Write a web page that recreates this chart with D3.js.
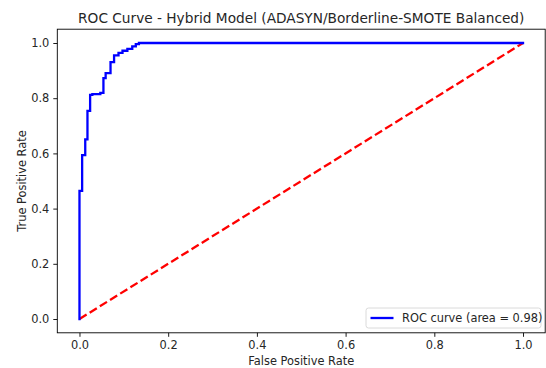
<!DOCTYPE html>
<html>
<head>
<meta charset="utf-8">
<style>
  body { margin: 0; background: #fff; }
  text { font-family: "DejaVu Sans", sans-serif; fill: #262626; }
</style>
</head>
<body>
<svg width="546" height="368"></svg>
<script src="https://d3js.org/d3.v7.min.js"></script>
<script>

// ROC points
var fpr = [0, 0, 0.006, 0.006, 0.013, 0.013, 0.018, 0.018, 0.024, 0.024, 0.029, 0.029,
           0.047, 0.047, 0.054, 0.054, 0.059, 0.059, 0.070, 0.070, 0.078, 0.078, 0.088, 0.088,
           0.097, 0.097, 0.108, 0.108, 0.119, 0.119, 0.127, 0.127, 0.134, 0.134, 1];
var tpr = [0, 0.464, 0.464, 0.594, 0.594, 0.651, 0.651, 0.754, 0.754, 0.812, 0.812, 0.815,
           0.815, 0.819, 0.819, 0.873, 0.873, 0.891, 0.891, 0.931, 0.931, 0.955, 0.955, 0.964,
           0.964, 0.972, 0.972, 0.979, 0.979, 0.988, 0.988, 0.996, 0.996, 1.0, 1.0];
var diagX = [0, 1];
var diagY = [0, 1];
var ticks = [0, 0.2, 0.4, 0.6, 0.8, 1.0];
var rocAuc = 0.98;

var svg = d3.select("svg");

var x = d3.scaleLinear().domain([-0.05, 1.05]).range([57.3, 545.2]);
var y = d3.scaleLinear().domain([-0.05, 1.05]).range([332.8, 29.2]);

var line = d3.line()
    .x(function(d) { return x(d[0]); })
    .y(function(d) { return y(d[1]); });

// diagonal reference
svg.append("path")
    .datum(d3.zip(diagX, diagY))
    .attr("d", line)
    .attr("fill", "none")
    .attr("stroke", "#ff0000")
    .attr("stroke-width", 2.3)
    .attr("stroke-dasharray", "8.4,3.6");

// roc curve
svg.append("path")
    .datum(d3.zip(fpr, tpr))
    .attr("d", line)
    .attr("fill", "none")
    .attr("stroke", "#0000ff")
    .attr("stroke-width", 2.3)
    .attr("stroke-linejoin", "miter")
    .attr("stroke-linecap", "square");

// axes
var xAxis = svg.append("g")
    .attr("transform", "translate(0,332.8)")
    .call(d3.axisBottom(x).tickValues(ticks).tickFormat(d3.format(".1f")).tickSize(4).tickPadding(4));
var yAxis = svg.append("g")
    .attr("transform", "translate(57.3,0)")
    .call(d3.axisLeft(y).tickValues(ticks).tickFormat(d3.format(".1f")).tickSize(4).tickPadding(4));

[xAxis, yAxis].forEach(function(a) {
  a.select(".domain").remove();
  a.selectAll("line").attr("stroke", "#000").attr("stroke-width", 0.9);
  a.selectAll("text").attr("font-size", 11.4).attr("fill", "#262626")
      .style("font-family", "'DejaVu Sans', sans-serif");
});

// frame
svg.append("rect")
    .attr("x", 57.3).attr("y", 29.2)
    .attr("width", 545.2 - 57.3).attr("height", 332.8 - 29.2)
    .attr("fill", "none").attr("stroke", "#000").attr("stroke-width", 0.9);

// title and labels
svg.append("text")
    .attr("x", (57.3 + 545.2) / 2).attr("y", 23)
    .attr("text-anchor", "middle").attr("font-size", 13.7)
    .text("ROC Curve - Hybrid Model (ADASYN/Borderline-SMOTE Balanced)");

svg.append("text")
    .attr("x", (57.3 + 545.2) / 2).attr("y", 365)
    .attr("text-anchor", "middle").attr("font-size", 11.4)
    .text("False Positive Rate");

svg.append("text")
    .attr("transform", "translate(26,181) rotate(-90)")
    .attr("text-anchor", "middle").attr("font-size", 11.4)
    .text("True Positive Rate");

// legend
var lg = svg.append("g").attr("transform", "translate(366,308)");
lg.append("rect")
    .attr("width", 175).attr("height", 20).attr("rx", 2.5)
    .attr("fill", "#fff").attr("fill-opacity", 0.8)
    .attr("stroke", "#d6d6d6").attr("stroke-width", 0.9);
lg.append("line")
    .attr("x1", 4.5).attr("x2", 27.5).attr("y1", 10).attr("y2", 10)
    .attr("stroke", "#0000ff").attr("stroke-width", 2.3);
lg.append("text")
    .attr("x", 36).attr("y", 14.2).attr("font-size", 11.4)
    .text("ROC curve (area = " + rocAuc.toFixed(2) + ")");

</script>
</body>
</html>
